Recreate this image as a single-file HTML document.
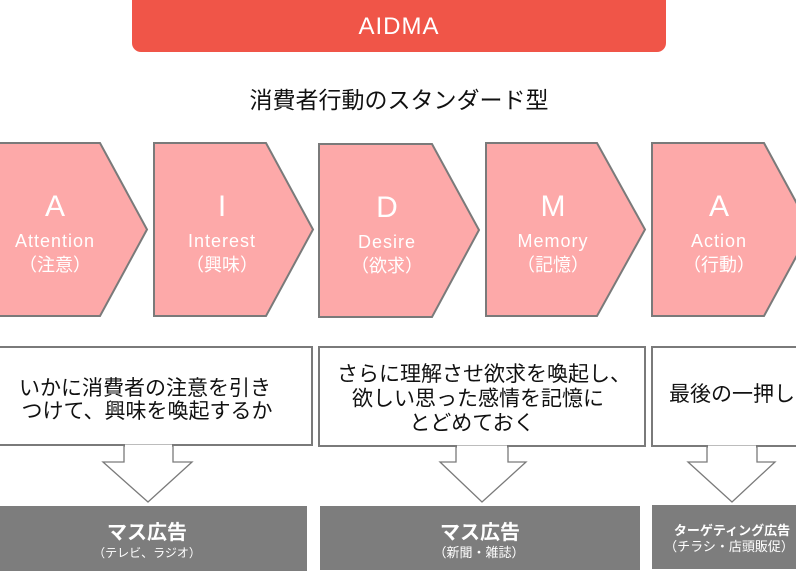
<!DOCTYPE html>
<html>
<head>
<meta charset="utf-8">
<style>
  html, body { margin: 0; padding: 0; background: #ffffff; }
  body { width: 796px; height: 584px; overflow: hidden; }
  svg { display: block; }
  .jp { font-family: "Liberation Sans", "Noto Sans CJK JP", sans-serif; }
</style>
</head>
<body>
<svg width="796" height="584" viewBox="0 0 796 584" xmlns="http://www.w3.org/2000/svg">
  <!-- Header -->
  <rect x="132" y="-12" width="534" height="64" rx="9" ry="9" fill="#f05548"/>
  <text x="399" y="34" text-anchor="middle" class="jp" font-size="24" fill="#ffffff" letter-spacing="1">AIDMA</text>
  <text x="399" y="108" text-anchor="middle" class="jp" font-size="23" fill="#111111">消費者行動のスタンダード型</text>

  <!-- Chevrons -->
  <g fill="#fda9a9" stroke="#7a7a7a" stroke-width="2" stroke-linejoin="miter">
    <polygon points="-12,143 100,143 147,229.5 100,316 -12,316"/>
    <polygon points="154,143 266,143 313,229.5 266,316 154,316"/>
    <polygon points="319,144 432,144 479,230 432,317 319,317"/>
    <polygon points="486,143 597,143 645,229.5 597,316 486,316"/>
    <polygon points="652,143 764,143 811,229.5 764,316 652,316"/>
  </g>
  <g class="jp" fill="#ffffff" text-anchor="middle">
    <text x="55" y="216" font-size="30">A</text>
    <text x="55" y="247" font-size="18" letter-spacing="1">Attention</text>
    <text x="55" y="271" font-size="18">（注意）</text>

    <text x="222" y="216" font-size="30">I</text>
    <text x="222" y="247" font-size="18" letter-spacing="1">Interest</text>
    <text x="222" y="271" font-size="18">（興味）</text>

    <text x="387" y="217" font-size="30">D</text>
    <text x="387" y="248" font-size="18" letter-spacing="1">Desire</text>
    <text x="387" y="272" font-size="18">（欲求）</text>

    <text x="553" y="216" font-size="30">M</text>
    <text x="553" y="247" font-size="18" letter-spacing="1">Memory</text>
    <text x="553" y="271" font-size="18">（記憶）</text>

    <text x="719" y="216" font-size="30">A</text>
    <text x="719" y="247" font-size="18" letter-spacing="1">Action</text>
    <text x="719" y="271" font-size="18">（行動）</text>
  </g>

  <!-- Text boxes -->
  <g fill="#ffffff" stroke="#7a7a7a" stroke-width="2">
    <rect x="-14" y="347" width="326" height="98"/>
    <rect x="319" y="347" width="326" height="99"/>
    <rect x="652" y="347" width="160" height="99"/>
  </g>
  <g class="jp" fill="#111111" text-anchor="middle" font-size="21">
    <text x="145" y="395">いかに消費者の注意を引き</text>
    <text x="147" y="418">つけて、興味を喚起するか</text>

    <text x="484" y="381">さらに理解させ欲求を喚起し、</text>
    <text x="478" y="405.5">欲しい思った感情を記憶に</text>
    <text x="472" y="430">とどめておく</text>

    <text x="732" y="401">最後の一押し</text>
  </g>

  <!-- Down arrows -->
  <g fill="#ffffff" stroke="#7a7a7a" stroke-width="1.3" stroke-linejoin="miter">
    <polygon points="124,446 124,462 103,462 148,502 192,462 173,462 173,446"/>
    <polygon points="456,447 456,462 440,462 482,502 526,462 508,462 508,447"/>
    <polygon points="707,447 707,462 688,462 732,502 775,462 757,462 757,447"/>
  </g>
  <!-- hide arrow top edges into box bottom -->
  <g stroke="#7a7a7a" stroke-width="2">
    <line x1="-14" y1="445" x2="312" y2="445"/>
    <line x1="319" y1="446" x2="645" y2="446"/>
    <line x1="652" y1="446" x2="812" y2="446"/>
  </g>
  <g fill="#ffffff">
    <rect x="125" y="444.5" width="47" height="4"/>
    <rect x="457" y="445.5" width="50" height="4"/>
    <rect x="708" y="445.5" width="48" height="4"/>
  </g>

  <!-- Gray boxes -->
  <g fill="#7d7d7d">
    <rect x="-10" y="506" width="317" height="65"/>
    <rect x="320" y="506" width="320" height="64"/>
    <rect x="652" y="505" width="160" height="64"/>
  </g>
  <g class="jp" fill="#ffffff" text-anchor="middle">
    <text x="147" y="539" font-size="20" font-weight="bold">マス広告</text>
    <text x="147" y="557" font-size="12">（テレビ、ラジオ）</text>

    <text x="480" y="539" font-size="20" font-weight="bold">マス広告</text>
    <text x="479" y="557" font-size="13">（新聞・雑誌）</text>

    <text x="732" y="535" font-size="13" font-weight="bold">ターゲティング広告</text>
    <text x="729" y="551" font-size="13">（チラシ・店頭販促）</text>
  </g>
</svg>
</body>
</html>
